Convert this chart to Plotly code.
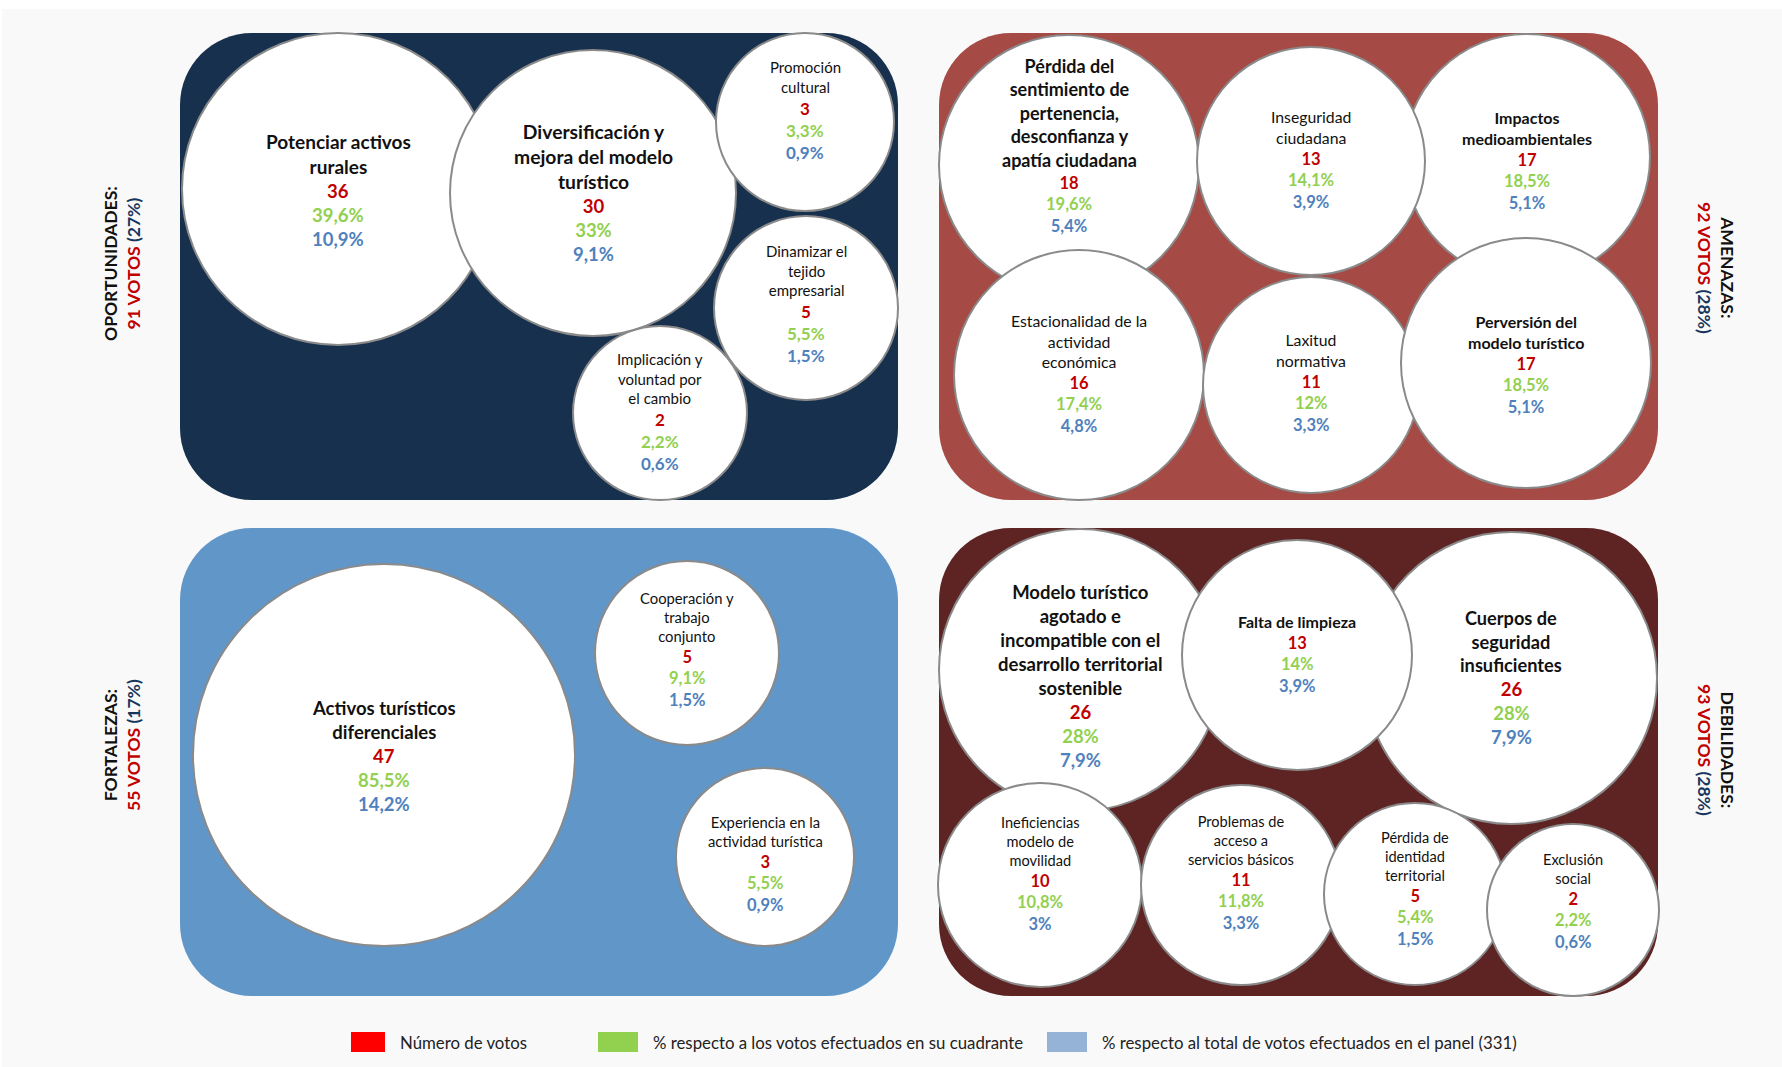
import plotly.graph_objects as go

# ---------------- DATA ----------------
quad_names = ["OPORTUNIDADES:", "AMENAZAS:", "FORTALEZAS:", "DEBILIDADES:"]
quad_votes = [91, 92, 55, 93]
quad_pct = ["27%", "28%", "17%", "28%"]

opp_labels = ["Potenciar activos<br>rurales", "Diversificación y<br>mejora del modelo<br>turístico",
              "Promoción<br>cultural", "Implicación y<br>voluntad por<br>el cambio",
              "Dinamizar el<br>tejido<br>empresarial"]
opp_votes = [36, 30, 3, 2, 5]
opp_pct_q = ["39,6%", "33%", "3,3%", "2,2%", "5,5%"]
opp_pct_t = ["10,9%", "9,1%", "0,9%", "0,6%", "1,5%"]

ame_labels = ["Pérdida del<br>sentimiento de<br>pertenencia,<br>desconfianza y<br>apatía ciudadana",
              "Impactos<br>medioambientales", "Inseguridad<br>ciudadana",
              "Estacionalidad de la<br>actividad<br>económica", "Laxitud<br>normativa",
              "Perversión del<br>modelo turístico"]
ame_votes = [18, 17, 13, 16, 11, 17]
ame_pct_q = ["19,6%", "18,5%", "14,1%", "17,4%", "12%", "18,5%"]
ame_pct_t = ["5,4%", "5,1%", "3,9%", "4,8%", "3,3%", "5,1%"]

for_labels = ["Activos turísticos<br>diferenciales", "Cooperación y<br>trabajo<br>conjunto",
              "Experiencia en la<br>actividad turística"]
for_votes = [47, 5, 3]
for_pct_q = ["85,5%", "9,1%", "5,5%"]
for_pct_t = ["14,2%", "1,5%", "0,9%"]

deb_labels = ["Modelo turístico<br>agotado e<br>incompatible con el<br>desarrollo territorial<br>sostenible",
              "Cuerpos de<br>seguridad<br>insuficientes", "Falta de limpieza",
              "Ineficiencias<br>modelo de<br>movilidad", "Problemas de<br>acceso a<br>servicios básicos",
              "Pérdida de<br>identidad<br>territorial", "Exclusión<br>social"]
deb_votes = [26, 26, 13, 10, 11, 5, 2]
deb_pct_q = ["28%", "28%", "14%", "10,8%", "11,8%", "5,4%", "2,2%"]
deb_pct_t = ["7,9%", "7,9%", "3,9%", "3%", "3,3%", "1,5%", "0,6%"]

legend_labels = ["Número de votos", "% respecto a los votos efectuados en su cuadrante",
                 "% respecto al total de votos efectuados en el panel (331)"]

# ---------------- LAYOUT / STYLE ----------------
W, H = 1782, 1067
FONT = "Lato"
RED, GREEN, BLUE, NAVY = "#c00000", "#92d050", "#4f81bd", "#17365d"

panels = [  # x0, y0, x1, y1, color
    (180, 33, 898, 500, "#16304d"),
    (939, 33, 1658, 500, "#a54a45"),
    (180, 528, 898, 996, "#6196c9"),
    (939, 528, 1658, 996, "#5d2423"),
]
# bubble geometry: (cx, cy, r, text_center_y, label_size, num_size, bold)
opp_geo = [(338, 189, 156, 190, 19, 18.5, True), (593, 193, 143, 192, 19.3, 18.5, True),
           (805, 122, 89, 111, 15, 17, False), (660, 413, 87, 412, 15, 17, False),
           (806, 308, 92, 304, 15, 17, False)]
ame_geo = [(1069, 165, 130, 146, 18, 16.5, True), (1527, 157, 123, 160, 16, 16.5, True),
           (1311, 161, 114, 160, 15.8, 16.5, False), (1079, 375, 125, 373, 15.8, 16.5, False),
           (1311, 385, 108, 383, 15.8, 16.5, False), (1526, 363, 125, 364, 16, 16.5, True)]
for_geo = [(384, 755, 191, 756, 18.5, 18.5, True), (687, 653, 92, 649, 14.8, 16.5, False),
           (765, 857, 89, 864, 14.8, 16.5, False)]
deb_geo = [(1080, 670, 141, 676, 18.5, 18.5, True), (1511, 678, 146, 678, 18.2, 18.5, True),
           (1297, 655, 115, 654, 16, 16.5, True), (1040, 885, 102, 874, 14.6, 16.5, False),
           (1241, 885, 100, 873, 14.6, 16.5, False), (1415, 894, 91, 889, 14.6, 16.5, False),
           (1573, 910, 86, 901, 14.6, 16.5, False)]

fig = go.Figure()
shapes, annotations = [], []

# page background
shapes.append(dict(type="rect", x0=2, y0=9, x1=W, y1=H, fillcolor="#f9f9f9",
                   line=dict(width=0), layer="below"))


def rrect(x0, y0, x1, y1, r):
    k = 0.5523 * r
    return (f"M{x0+r},{y0} L{x1-r},{y0} C{x1-r+k},{y0} {x1},{y0+r-k} {x1},{y0+r} "
            f"L{x1},{y1-r} C{x1},{y1-r+k} {x1-r+k},{y1} {x1-r},{y1} "
            f"L{x0+r},{y1} C{x0+r-k},{y1} {x0},{y1-r+k} {x0},{y1-r} "
            f"L{x0},{y0+r} C{x0},{y0+r-k} {x0+r-k},{y0} {x0+r},{y0} Z")


for (x0, y0, x1, y1, c) in panels:
    shapes.append(dict(type="path", path=rrect(x0, y0, x1, y1, 72), fillcolor=c,
                       line=dict(width=0), layer="below"))


def add_group(labels, votes, pq, pt, geo):
    for lab, v, q, t, g in zip(labels, votes, pq, pt, geo):
        cx, cy, r, ty, ls, ns, bold = g
        shapes.append(dict(type="circle", x0=cx - r, y0=cy - r, x1=cx + r, y1=cy + r,
                           fillcolor="white", line=dict(color="#8a8a8a", width=2), layer="below"))
        nl = lab.count("<br>") + 1
        lh_l = ls * 1.3
        lh_n = ns * 1.3
        total = nl * lh_l + 3 * lh_n
        top = ty - total / 2
        split = top + nl * lh_l
        txt = f"<b>{lab}</b>" if bold else lab
        annotations.append(dict(x=cx, y=split, xref="x", yref="y", text=txt, showarrow=False,
                                xanchor="center", yanchor="bottom", align="center",
                                font=dict(family=FONT, size=ls, color="#111111"), borderpad=0))
        ntxt = (f"<b><span style='color:{RED}'>{v}</span><br>"
                f"<span style='color:{GREEN}'>{q}</span><br>"
                f"<span style='color:{BLUE}'>{t}</span></b>")
        annotations.append(dict(x=cx, y=split, xref="x", yref="y", text=ntxt, showarrow=False,
                                xanchor="center", yanchor="top", align="center",
                                font=dict(family=FONT, size=ns), borderpad=0))


add_group(opp_labels, opp_votes, opp_pct_q, opp_pct_t, opp_geo)
add_group(ame_labels, ame_votes, ame_pct_q, ame_pct_t, ame_geo)
add_group(for_labels, for_votes, for_pct_q, for_pct_t, for_geo)
add_group(deb_labels, deb_votes, deb_pct_q, deb_pct_t, deb_geo)

# side labels
side_pos = [(122, 264, -90), (1716, 268, 90), (122, 745, -90), (1716, 750, 90)]
for name, v, p, (sx, sy, ang) in zip(quad_names, quad_votes, quad_pct, side_pos):
    txt = (f"<b>{name}</b><br><b><span style='color:{RED}'>{v} VOTOS</span> "
           f"<span style='color:{NAVY}'>({p})</span></b>")
    annotations.append(dict(x=sx, y=sy, xref="x", yref="y", text=txt, showarrow=False,
                            textangle=ang, xanchor="center", yanchor="middle", align="center",
                            font=dict(family=FONT, size=17.5, color="#111111")))

# legend
leg_colors = ["#ff0000", "#92d050", "#95b3d7"]
leg_sq = [(351, 385), (598, 638), (1047, 1087)]
for lab, col, (a, b) in zip(legend_labels, leg_colors, leg_sq):
    shapes.append(dict(type="rect", x0=a, x1=b, y0=1032, y1=1052, fillcolor=col,
                       line=dict(width=0)))
    annotations.append(dict(x=b + 13, y=1042, xref="x", yref="y", text=lab, showarrow=False,
                            xanchor="left", yanchor="middle",
                            font=dict(family=FONT, size=16.8, color="#222222")))

fig.update_layout(
    width=W, height=H, margin=dict(l=0, r=0, t=0, b=0),
    paper_bgcolor="white", plot_bgcolor="rgba(0,0,0,0)",
    xaxis=dict(range=[0, W], visible=False, fixedrange=True),
    yaxis=dict(range=[H, 0], visible=False, fixedrange=True),
    shapes=shapes, annotations=annotations, showlegend=False,
)

fig.write_html("out.html", config={"displayModeBar": False},
               post_script="document.body.style.margin='0';document.body.style.overflow='hidden';")
